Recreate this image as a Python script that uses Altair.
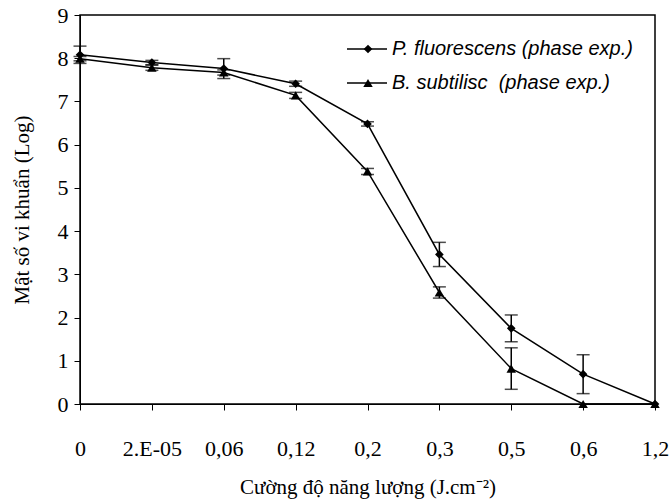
import altair as alt
import pandas as pd

categories = ["0", "2.E-05", "0,06", "0,12", "0,2", "0,3", "0,5", "0,6", "1,2"]
p_values = [8.08, 7.90, 7.76, 7.41, 6.48, 3.46, 1.75, 0.69, 0.0]
p_errors = [0.20, 0.05, 0.23, 0.06, 0.05, 0.28, 0.31, 0.45, 0.0]
b_values = [7.99, 7.78, 7.67, 7.14, 5.38, 2.58, 0.82, 0.0, 0.0]
b_errors = [0.05, 0.06, 0.06, 0.07, 0.07, 0.13, 0.48, 0.0, 0.0]
series = ["P. fluorescens (phase exp.)", "B. subtilisc\u00a0 (phase exp.)"]

rows = []
for s, vals, errs in [(series[0], p_values, p_errors), (series[1], b_values, b_errors)]:
    for c, v, e in zip(categories, vals, errs):
        rows.append({"cat": c, "series": s, "v": v, "lo": v - e, "hi": v + e, "err": e})
df = pd.DataFrame(rows)
df_err = df[df["err"] > 0]

FONT = "Liberation Serif"
x = alt.X("cat:N", sort=categories, scale=alt.Scale(type="point", padding=0),
          axis=alt.Axis(title="Cường độ năng lượng (J.cm⁻²)", labelAngle=0,
                        labelFont=FONT, labelFontSize=22, titleFont=FONT, titleFontSize=21,
                        titleFontWeight="normal", labelPadding=28, titlePadding=17,
                        tickSize=6, domainColor="black", tickColor="black",
                        labelColor="black", titleColor="black", grid=False))
y = alt.Y("v:Q", scale=alt.Scale(domain=[0, 9], nice=False),
          axis=alt.Axis(title="Mật số vi khuẩn (Log)", values=list(range(10)),
                        labelFont=FONT, labelFontSize=22, titleFont=FONT, titleFontSize=21,
                        titleFontWeight="normal", labelPadding=6, titlePadding=25,
                        tickSize=6, domainColor="black", tickColor="black",
                        labelColor="black", titleColor="black", grid=False))

base = alt.Chart(df)
lines = base.mark_line(color="black", strokeWidth=1.5).encode(x=x, y=y, detail="series:N")
shape_scale = alt.Scale(domain=series, range=["diamond", "triangle-up"])
pts = base.mark_point(filled=True, color="black", opacity=1).encode(
    x=x, y=y,
    shape=alt.Shape("series:N", scale=shape_scale, legend=None),
    size=alt.Size("series:N", scale=alt.Scale(domain=series, range=[75, 90]), legend=None),
)
errb = alt.Chart(df_err)
rules = errb.mark_rule(color="black", strokeWidth=1.5).encode(x=x, y="lo:Q", y2="hi:Q")
cap_lo = errb.mark_tick(color="black", thickness=1.5, size=13).encode(x=x, y="lo:Q")
cap_hi = errb.mark_tick(color="black", thickness=1.5, size=13).encode(x=x, y="hi:Q")

# manual legend
legend_layers = []
for i, (s, shp, sz) in enumerate(zip(series, ["diamond", "triangle-up"], [75, 90])):
    ly = 34 + 34 * i
    d = alt.Chart(pd.DataFrame({"series": [s]}))
    legend_layers.append(d.mark_rule(color="black", strokeWidth=1.5).encode(
        x=alt.value(267), x2=alt.value(307), y=alt.value(ly)))
    legend_layers.append(d.mark_point(filled=True, color="black", opacity=1, shape=shp, size=sz).encode(
        x=alt.value(288), y=alt.value(ly)))
    legend_layers.append(d.mark_text(align="left", baseline="middle", font="Liberation Sans",
                                     fontStyle="italic", fontSize=20, color="black").encode(
        x=alt.value(312), y=alt.value(ly), text="series:N"))

chart = alt.layer(lines, rules, cap_lo, cap_hi, pts, *legend_layers).properties(
    width=575, height=389,
    autosize=alt.AutoSizeParams(type="none"),
    padding={"left": 80, "top": 15, "right": 16, "bottom": 95},
    background="white",
).configure_view(stroke="black", strokeWidth=1.5)

chart.save("out.html", embed_options={"renderer": "svg", "actions": False})
